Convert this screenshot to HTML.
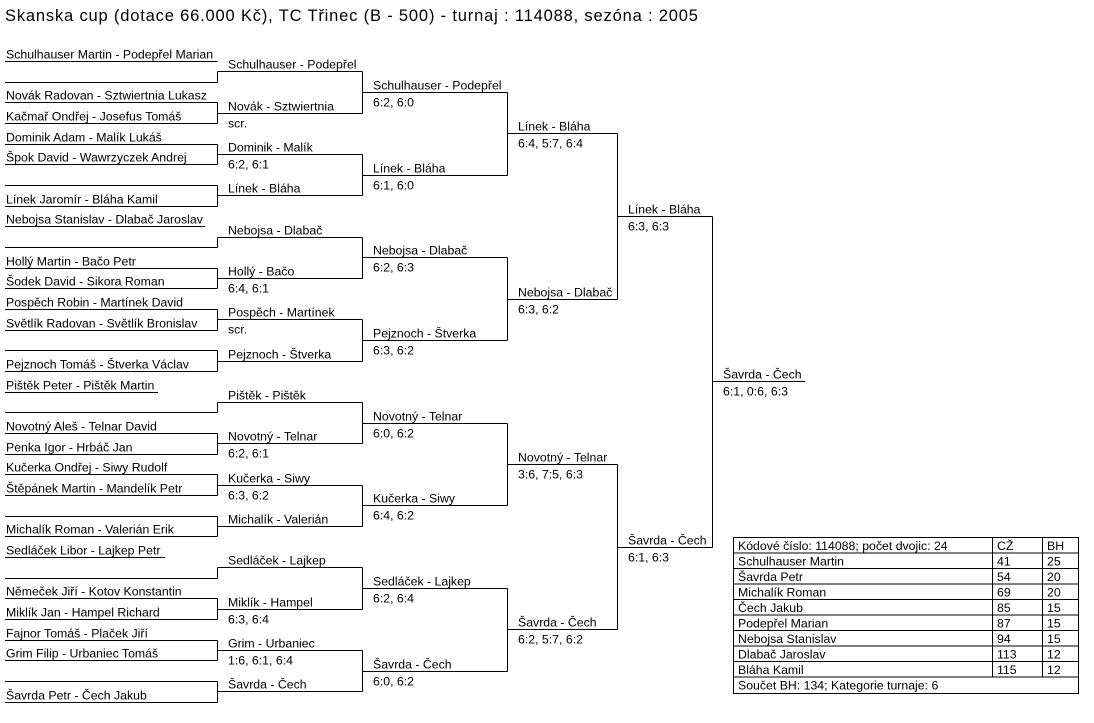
<!DOCTYPE html>
<html><head><meta charset="utf-8"><style>
html,body{margin:0;padding:0;background:#fff;}
svg{display:block;}
text{font-family:"Liberation Sans",sans-serif;font-size:12.3px;fill:#000;}
.t{font-size:16.5px;}
line{stroke:#000;stroke-width:1;}
</style></head><body>
<svg width="1094" height="723" viewBox="0 0 1094 723" xmlns="http://www.w3.org/2000/svg">
<text class="t" x="5" y="21" textLength="693">Skanska cup (dotace 66.000 Kč), TC Třinec (B - 500) - turnaj : 114088, sezóna : 2005</text>

<!-- round 0 lines -->
<g>
<line x1="5" y1="61.5" x2="217.5" y2="61.5"/>
<line x1="5" y1="82.5" x2="217.5" y2="82.5"/>
<line x1="5" y1="102.5" x2="217.5" y2="102.5"/>
<line x1="5" y1="123.5" x2="217.5" y2="123.5"/>
<line x1="5" y1="144.5" x2="217.5" y2="144.5"/>
<line x1="5" y1="164.5" x2="217.5" y2="164.5"/>
<line x1="5" y1="185.5" x2="217.5" y2="185.5"/>
<line x1="5" y1="206.5" x2="217.5" y2="206.5"/>
<line x1="5" y1="226.5" x2="205" y2="226.5"/>
<line x1="5" y1="247.5" x2="217.5" y2="247.5"/>
<line x1="5" y1="268.5" x2="217.5" y2="268.5"/>
<line x1="5" y1="288.5" x2="217.5" y2="288.5"/>
<line x1="5" y1="309.5" x2="217.5" y2="309.5"/>
<line x1="5" y1="330.5" x2="217.5" y2="330.5"/>
<line x1="5" y1="350.5" x2="217.5" y2="350.5"/>
<line x1="5" y1="371.5" x2="217.5" y2="371.5"/>
<line x1="5" y1="392.5" x2="158" y2="392.5"/>
<line x1="5" y1="412.5" x2="217.5" y2="412.5"/>
<line x1="5" y1="433.5" x2="217.5" y2="433.5"/>
<line x1="5" y1="454.5" x2="217.5" y2="454.5"/>
<line x1="5" y1="474.5" x2="217.5" y2="474.5"/>
<line x1="5" y1="495.5" x2="217.5" y2="495.5"/>
<line x1="5" y1="516.5" x2="217.5" y2="516.5"/>
<line x1="5" y1="536.5" x2="217.5" y2="536.5"/>
<line x1="5" y1="557.5" x2="165" y2="557.5"/>
<line x1="5" y1="578.5" x2="217.5" y2="578.5"/>
<line x1="5" y1="598.5" x2="217.5" y2="598.5"/>
<line x1="5" y1="619.5" x2="217.5" y2="619.5"/>
<line x1="5" y1="640.5" x2="217.5" y2="640.5"/>
<line x1="5" y1="660.5" x2="217.5" y2="660.5"/>
<line x1="5" y1="681.5" x2="217.5" y2="681.5"/>
<line x1="5" y1="702.5" x2="217.5" y2="702.5"/>
</g>
<!-- round 0 verticals -->
<g>
<line x1="217.5" y1="71.5" x2="217.5" y2="82.5"/>
<line x1="217.5" y1="102.5" x2="217.5" y2="123.5"/>
<line x1="217.5" y1="144.5" x2="217.5" y2="164.5"/>
<line x1="217.5" y1="185.5" x2="217.5" y2="206.5"/>
<line x1="217.5" y1="237.5" x2="217.5" y2="247.5"/>
<line x1="217.5" y1="268.5" x2="217.5" y2="288.5"/>
<line x1="217.5" y1="309.5" x2="217.5" y2="330.5"/>
<line x1="217.5" y1="350.5" x2="217.5" y2="371.5"/>
<line x1="217.5" y1="402.5" x2="217.5" y2="412.5"/>
<line x1="217.5" y1="433.5" x2="217.5" y2="454.5"/>
<line x1="217.5" y1="474.5" x2="217.5" y2="495.5"/>
<line x1="217.5" y1="516.5" x2="217.5" y2="536.5"/>
<line x1="217.5" y1="567.5" x2="217.5" y2="578.5"/>
<line x1="217.5" y1="598.5" x2="217.5" y2="619.5"/>
<line x1="217.5" y1="640.5" x2="217.5" y2="660.5"/>
<line x1="217.5" y1="681.5" x2="217.5" y2="702.5"/>
</g>
<!-- round 1 horizontals -->
<g>
<line x1="217.5" y1="71.5" x2="362.5" y2="71.5"/>
<line x1="217.5" y1="113.5" x2="362.5" y2="113.5"/>
<line x1="217.5" y1="154.5" x2="362.5" y2="154.5"/>
<line x1="217.5" y1="195.5" x2="362.5" y2="195.5"/>
<line x1="217.5" y1="237.5" x2="362.5" y2="237.5"/>
<line x1="217.5" y1="278.5" x2="362.5" y2="278.5"/>
<line x1="217.5" y1="319.5" x2="362.5" y2="319.5"/>
<line x1="217.5" y1="361.5" x2="362.5" y2="361.5"/>
<line x1="217.5" y1="402.5" x2="362.5" y2="402.5"/>
<line x1="217.5" y1="443.5" x2="362.5" y2="443.5"/>
<line x1="217.5" y1="485.5" x2="362.5" y2="485.5"/>
<line x1="217.5" y1="526.5" x2="362.5" y2="526.5"/>
<line x1="217.5" y1="567.5" x2="362.5" y2="567.5"/>
<line x1="217.5" y1="609.5" x2="362.5" y2="609.5"/>
<line x1="217.5" y1="650.5" x2="362.5" y2="650.5"/>
<line x1="217.5" y1="691.5" x2="362.5" y2="691.5"/>
</g>
<!-- round 1 verticals -->
<g>
<line x1="362.5" y1="71.5" x2="362.5" y2="113.5"/>
<line x1="362.5" y1="154.5" x2="362.5" y2="195.5"/>
<line x1="362.5" y1="237.5" x2="362.5" y2="278.5"/>
<line x1="362.5" y1="319.5" x2="362.5" y2="361.5"/>
<line x1="362.5" y1="402.5" x2="362.5" y2="443.5"/>
<line x1="362.5" y1="485.5" x2="362.5" y2="526.5"/>
<line x1="362.5" y1="567.5" x2="362.5" y2="609.5"/>
<line x1="362.5" y1="650.5" x2="362.5" y2="691.5"/>
</g>
<!-- round 2 -->
<g>
<line x1="362.5" y1="92.5" x2="507.5" y2="92.5"/>
<line x1="362.5" y1="175.5" x2="507.5" y2="175.5"/>
<line x1="362.5" y1="257.5" x2="507.5" y2="257.5"/>
<line x1="362.5" y1="340.5" x2="507.5" y2="340.5"/>
<line x1="362.5" y1="423.5" x2="507.5" y2="423.5"/>
<line x1="362.5" y1="505.5" x2="507.5" y2="505.5"/>
<line x1="362.5" y1="588.5" x2="507.5" y2="588.5"/>
<line x1="362.5" y1="671.5" x2="507.5" y2="671.5"/>
<line x1="507.5" y1="92.5" x2="507.5" y2="175.5"/>
<line x1="507.5" y1="257.5" x2="507.5" y2="340.5"/>
<line x1="507.5" y1="423.5" x2="507.5" y2="505.5"/>
<line x1="507.5" y1="588.5" x2="507.5" y2="671.5"/>
</g>
<!-- round 3 -->
<g>
<line x1="507.5" y1="133.5" x2="617.5" y2="133.5"/>
<line x1="507.5" y1="299.5" x2="617.5" y2="299.5"/>
<line x1="507.5" y1="464.5" x2="617.5" y2="464.5"/>
<line x1="507.5" y1="629.5" x2="617.5" y2="629.5"/>
<line x1="617.5" y1="133.5" x2="617.5" y2="299.5"/>
<line x1="617.5" y1="464.5" x2="617.5" y2="629.5"/>
</g>
<!-- round 4/5 -->
<g>
<line x1="617.5" y1="216.5" x2="712.5" y2="216.5"/>
<line x1="617.5" y1="547.5" x2="712.5" y2="547.5"/>
<line x1="712.5" y1="216.5" x2="712.5" y2="547.5"/>
<line x1="712.5" y1="381.5" x2="805" y2="381.5"/>
</g>

<!-- round 0 names -->
<g>
<text x="6" y="58.5">Schulhauser Martin - Podepřel Marian</text>
<text x="6" y="99.5">Novák Radovan - Sztwiertnia Lukasz</text>
<text x="6" y="120.5">Kačmař Ondřej - Josefus Tomáš</text>
<text x="6" y="141.5">Dominik Adam - Malík Lukáš</text>
<text x="6" y="161.5">Špok David - Wawrzyczek Andrej</text>
<text x="6" y="203.5">Línek Jaromír - Bláha Kamil</text>
<text x="6" y="223.5">Nebojsa Stanislav - Dlabač Jaroslav</text>
<text x="6" y="265.5">Hollý Martin - Bačo Petr</text>
<text x="6" y="285.5">Šodek David - Sikora Roman</text>
<text x="6" y="306.5">Pospěch Robin - Martínek David</text>
<text x="6" y="327.5">Světlík Radovan - Světlík Bronislav</text>
<text x="6" y="368.5">Pejznoch Tomáš - Štverka Václav</text>
<text x="6" y="389.5">Pištěk Peter - Pištěk Martin</text>
<text x="6" y="430.5">Novotný Aleš - Telnar David</text>
<text x="6" y="451.5">Penka Igor - Hrbáč Jan</text>
<text x="6" y="471.5">Kučerka Ondřej - Siwy Rudolf</text>
<text x="6" y="492.5">Štěpánek Martin - Mandelík Petr</text>
<text x="6" y="533.5">Michalík Roman - Valerián Erik</text>
<text x="6" y="554.5">Sedláček Libor - Lajkep Petr</text>
<text x="6" y="595.5">Němeček Jiří - Kotov Konstantin</text>
<text x="6" y="616.5">Miklík Jan - Hampel Richard</text>
<text x="6" y="637.5">Fajnor Tomáš - Plaček Jiří</text>
<text x="6" y="657.5">Grim Filip - Urbaniec Tomáš</text>
<text x="6" y="699.5">Šavrda Petr - Čech Jakub</text>
</g>
<!-- round 1 labels -->
<g>
<text x="228" y="68.5">Schulhauser - Podepřel</text>
<text x="228" y="110.5">Novák - Sztwiertnia</text><text x="228" y="127.5">scr.</text>
<text x="228" y="151.5">Dominik - Malík</text><text x="228" y="168.5">6:2, 6:1</text>
<text x="228" y="192.5">Línek - Bláha</text>
<text x="228" y="234.5">Nebojsa - Dlabač</text>
<text x="228" y="275.5">Hollý - Bačo</text><text x="228" y="292.5">6:4, 6:1</text>
<text x="228" y="316.5">Pospěch - Martínek</text><text x="228" y="333.5">scr.</text>
<text x="228" y="358.5">Pejznoch - Štverka</text>
<text x="228" y="399.5">Pištěk - Pištěk</text>
<text x="228" y="440.5">Novotný - Telnar</text><text x="228" y="457.5">6:2, 6:1</text>
<text x="228" y="482.5">Kučerka - Siwy</text><text x="228" y="499.5">6:3, 6:2</text>
<text x="228" y="523.5">Michalík - Valerián</text>
<text x="228" y="564.5">Sedláček - Lajkep</text>
<text x="228" y="606.5">Miklík - Hampel</text><text x="228" y="623.5">6:3, 6:4</text>
<text x="228" y="647.5">Grim - Urbaniec</text><text x="228" y="664.5">1:6, 6:1, 6:4</text>
<text x="228" y="688.5">Šavrda - Čech</text>
</g>
<!-- round 2 labels -->
<g>
<text x="373" y="89.5">Schulhauser - Podepřel</text><text x="373" y="106.5">6:2, 6:0</text>
<text x="373" y="172.5">Línek - Bláha</text><text x="373" y="189.5">6:1, 6:0</text>
<text x="373" y="254.5">Nebojsa - Dlabač</text><text x="373" y="271.5">6:2, 6:3</text>
<text x="373" y="337.5">Pejznoch - Štverka</text><text x="373" y="354.5">6:3, 6:2</text>
<text x="373" y="420.5">Novotný - Telnar</text><text x="373" y="437.5">6:0, 6:2</text>
<text x="373" y="502.5">Kučerka - Siwy</text><text x="373" y="519.5">6:4, 6:2</text>
<text x="373" y="585.5">Sedláček - Lajkep</text><text x="373" y="602.5">6:2, 6:4</text>
<text x="373" y="668.5">Šavrda - Čech</text><text x="373" y="685.5">6:0, 6:2</text>
</g>
<!-- round 3 labels -->
<g>
<text x="518" y="130.5">Línek - Bláha</text><text x="518" y="147.5">6:4, 5:7, 6:4</text>
<text x="518" y="296.5">Nebojsa - Dlabač</text><text x="518" y="313.5">6:3, 6:2</text>
<text x="518" y="461.5">Novotný - Telnar</text><text x="518" y="478.5">3:6, 7:5, 6:3</text>
<text x="518" y="626.5">Šavrda - Čech</text><text x="518" y="643.5">6:2, 5:7, 6:2</text>
</g>
<g>
<text x="628" y="213.5">Línek - Bláha</text><text x="628" y="230.5">6:3, 6:3</text>
<text x="628" y="544.5">Šavrda - Čech</text><text x="628" y="561.5">6:1, 6:3</text>
<text x="723" y="378.5">Šavrda - Čech</text><text x="723" y="395.5">6:1, 0:6, 6:3</text>
</g>

<!-- table -->
<g>
<rect x="733.5" y="537.5" width="345" height="156" fill="none" stroke="#000"/>
<line x1="733.5" y1="553" x2="1078.5" y2="553"/>
<line x1="733.5" y1="568.5" x2="1078.5" y2="568.5"/>
<line x1="733.5" y1="584" x2="1078.5" y2="584"/>
<line x1="733.5" y1="599.5" x2="1078.5" y2="599.5"/>
<line x1="733.5" y1="615" x2="1078.5" y2="615"/>
<line x1="733.5" y1="630.5" x2="1078.5" y2="630.5"/>
<line x1="733.5" y1="646" x2="1078.5" y2="646"/>
<line x1="733.5" y1="661.5" x2="1078.5" y2="661.5"/>
<line x1="733.5" y1="677" x2="1078.5" y2="677"/>
<line x1="992.5" y1="537.5" x2="992.5" y2="677"/>
<line x1="1042.5" y1="537.5" x2="1042.5" y2="677"/>
<text x="738" y="550">Kódové číslo: 114088; počet dvojic: 24</text><text x="997" y="550">CŽ</text><text x="1047" y="550">BH</text>
<text x="738" y="565.5">Schulhauser Martin</text><text x="997" y="565.5">41</text><text x="1047" y="565.5">25</text>
<text x="738" y="581">Šavrda Petr</text><text x="997" y="581">54</text><text x="1047" y="581">20</text>
<text x="738" y="596.5">Michalík Roman</text><text x="997" y="596.5">69</text><text x="1047" y="596.5">20</text>
<text x="738" y="612">Čech Jakub</text><text x="997" y="612">85</text><text x="1047" y="612">15</text>
<text x="738" y="627.5">Podepřel Marian</text><text x="997" y="627.5">87</text><text x="1047" y="627.5">15</text>
<text x="738" y="643">Nebojsa Stanislav</text><text x="997" y="643">94</text><text x="1047" y="643">15</text>
<text x="738" y="658.5">Dlabač Jaroslav</text><text x="997" y="658.5">113</text><text x="1047" y="658.5">12</text>
<text x="738" y="674">Bláha Kamil</text><text x="997" y="674">115</text><text x="1047" y="674">12</text>
<text x="738" y="689.5">Součet BH: 134; Kategorie turnaje: 6</text>
</g>
</svg>
</body></html>
